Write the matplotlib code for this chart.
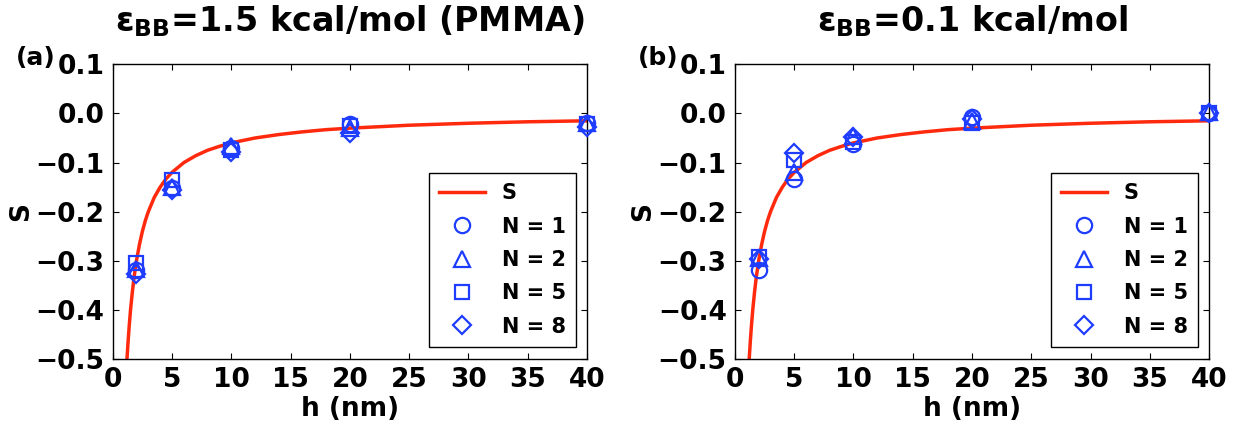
import matplotlib
matplotlib.use('Agg')
import matplotlib.pyplot as plt
import numpy as np

# theory curve S(h)
h_curve = [1.15, 1.2, 1.3, 1.4, 1.5, 1.65, 1.8, 2.0, 2.25, 2.5, 2.75, 3.0, 3.5, 4.0,
           4.5, 5.0, 6.0, 7.0, 8.0, 9.0, 10.0, 12.0, 14.0, 16.0, 18.0, 20.0,
           25.0, 30.0, 35.0, 40.0]
s_curve = [-0.522, -0.500, -0.462, -0.429, -0.400, -0.364, -0.333, -0.300, -0.267,
           -0.240, -0.218, -0.200, -0.171, -0.150, -0.133, -0.120, -0.100, -0.086,
           -0.075, -0.067, -0.060, -0.050, -0.043, -0.0375, -0.033, -0.030,
           -0.024, -0.020, -0.017, -0.015]

h_pts = [2, 5, 10, 20, 40]

# panel (a): eps_BB = 1.5 kcal/mol (PMMA)
a_n1 = [-0.318, -0.151, -0.071, -0.022, -0.019]
a_n2 = [-0.316, -0.149, -0.067, -0.030, -0.020]
a_n5 = [-0.305, -0.136, -0.075, -0.026, -0.022]
a_n8 = [-0.326, -0.156, -0.078, -0.039, -0.027]

# panel (b): eps_BB = 0.1 kcal/mol
b_n1 = [-0.318, -0.134, -0.062, -0.008, 0.000]
b_n2 = [-0.295, -0.120, -0.046, -0.015, 0.002]
b_n5 = [-0.292, -0.094, -0.058, -0.020, 0.000]
b_n8 = [-0.297, -0.080, -0.049, -0.012, 0.000]

titles = [r'$\mathbf{\varepsilon_{BB}}$=1.5 kcal/mol (PMMA)',
          r'$\mathbf{\varepsilon_{BB}}$=0.1 kcal/mol']
panel_tags = ['(a)', '(b)']

plt.rcParams.update({
    'font.family': 'DejaVu Sans',
    'font.weight': 'bold',
    'mathtext.fontset': 'dejavusans',
    'mathtext.default': 'bf',
    'axes.unicode_minus': True,
    'xtick.direction': 'in',
    'ytick.direction': 'in',
    'xtick.top': True,
    'ytick.right': True,
    'xtick.major.size': 4,
    'ytick.major.size': 4,
    'xtick.major.pad': 6,
    'ytick.major.pad': 6,
    'axes.linewidth': 1.0,
})

blue = '#1f3dff'
red = '#ff2a0e'


def yfmt(v, pos):
    v = round(v, 1)
    if v == 0:
        v = 0.0
    return ('%.1f' % v).replace('-', '\u2212')


fig = plt.figure(figsize=(12.39, 4.24), dpi=100)
ax_a = fig.add_axes([0.091, 0.1533, 0.3828, 0.6950])
ax_b = fig.add_axes([0.5932, 0.1533, 0.3826, 0.6950])

sets = [(a_n1, a_n2, a_n5, a_n8), (b_n1, b_n2, b_n5, b_n8)]
markers = ['o', '^', 's', 'D']
labels = ['N = 1', 'N = 2', 'N = 5', 'N = 8']

for i, ax in enumerate([ax_a, ax_b]):
    ax.plot(h_curve, s_curve, color=red, lw=2.5, label='S', zorder=2)
    for ys, m, lab in zip(sets[i], markers, labels):
        ms = 9 if m == 'D' else 11
        if m == 's':
            ms = 10
        ax.plot(h_pts, ys, linestyle='none', marker=m, markersize=ms,
                markerfacecolor='none', markeredgecolor=blue,
                markeredgewidth=1.6, label=lab, zorder=3, clip_on=False)
    ax.set_xlim(0, 40)
    ax.set_ylim(-0.5, 0.1)
    ax.set_xticks(np.arange(0, 41, 5))
    ax.set_yticks(np.arange(-0.5, 0.11, 0.1))
    ax.yaxis.set_major_formatter(plt.FuncFormatter(yfmt))
    ax.tick_params(labelsize=19)
    for t in ax.get_xticklabels() + ax.get_yticklabels():
        t.set_fontweight('bold')
    ax.set_xlabel('h (nm)', fontsize=19, fontweight='bold', labelpad=2)
    ax.set_ylabel('S', fontsize=19, fontweight='bold', labelpad=1)
    ax.set_title(titles[i], fontsize=24, fontweight='bold', pad=24)
    leg = ax.legend(loc='lower right', bbox_to_anchor=(0.977, 0.041),
                    borderaxespad=0, numpoints=1, fontsize=15,
                    labelspacing=0.64, handlelength=2.2, fancybox=False,
                    framealpha=1, edgecolor='black', borderpad=0.5)
    leg.get_frame().set_linewidth(1.0)
    for t in leg.get_texts():
        t.set_fontweight('bold')

fig.text(0.013, 0.847, panel_tags[0], fontsize=18, fontweight='bold')
fig.text(0.515, 0.847, panel_tags[1], fontsize=18, fontweight='bold')

fig.savefig('out.png', dpi=100)
